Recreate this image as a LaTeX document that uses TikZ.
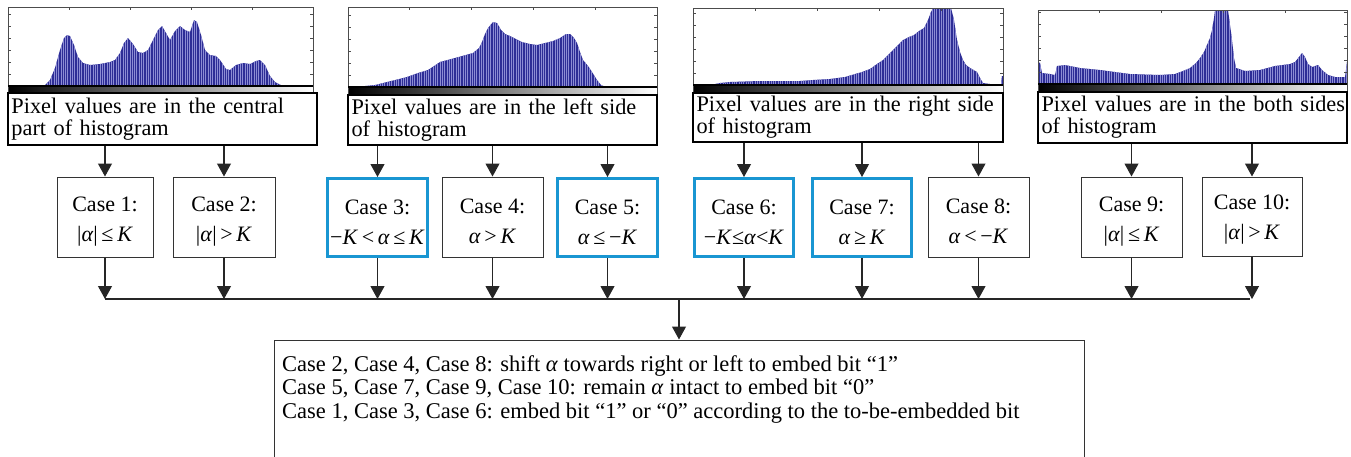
\documentclass[tikz,border=0pt]{standalone}
\usepackage{fontspec}
\setmainfont{Liberation Serif}
\usetikzlibrary{arrows.meta,calc}
\definecolor{hdark}{RGB}{45,45,150}
\definecolor{hlight}{RGB}{140,140,212}
\definecolor{caseblue}{RGB}{25,150,210}
\newcommand{\al}{\textit{α}}
\newcommand{\KK}{\textit{K}}
\newcommand{\mybar}{\textup{|}}
\newcommand{\topstrut}{\rule{0pt}{24pt}}
\tikzset{
  panelbox/.style={draw=black, line width=1.1pt, align=left, inner xsep=3.5pt, inner ysep=0pt,
     font=\fontsize{22.3}{22}\selectfont},
  casebox/.style={draw=black!80, line width=1pt, align=center, minimum height=80pt, inner sep=0pt,
     font=\fontsize{22}{30}\selectfont},
  bluebox/.style={casebox, draw=caseblue, line width=3pt},
  arr/.style={draw=black!85, line width=1.1pt, -{Triangle[width=14pt,length=13pt]}},
  conn/.style={draw=black!85, line width=1.1pt},
  framel/.style={draw=black!70, line width=0.8pt},
}
\newcommand{\histpanel}[6]{% left, right, top, base, cbarbottom, coords
  \pgfmathsetmacro\hpxs{#1+2.3}
  \begin{scope}
    \clip (#1,#3) rectangle (#2,#4);
    \clip plot coordinates {#6} -- cycle;
    \fill[hdark] (#1,#3) rectangle (#2,#4);
    \foreach \xx in {#1,\hpxs,...,#2} \draw[hlight, line width=0.75pt] (\xx,#3) -- (\xx,#4);
  \end{scope}
  \shade[left color=black, right color=white] (#1,#4) rectangle (#2,#5);
  \draw[framel] (#1,#5) -- (#1,#3) -- (#2,#3) -- (#2,#5);
  \draw[black, line width=1.1pt] (#1,#4) -- (#2,#4);
  \foreach \k in {1,...,6} {
    \draw[framel] (#1,#4-12*\k) -- ++(3,0);
    \draw[framel] (#2,#4-12*\k) -- ++(-3,0);
  }
  \foreach \k in {1,...,4} {
    \draw[framel] ({#1+(#2-#1)*\k/5},#3) -- ++(0,3);
  }
}
\begin{document}
\begin{tikzpicture}[x=1pt,y=-1pt]
\useasboundingbox (0,0) rectangle (1351,456);

% histograms
\histpanel{8}{313}{7}{86}{93}{(40,86)(45,85)(50,80)(55,68)(60,50)(64,38)(67,35)(70,36)(74,45)(78,57)(83,63)(90,65)(100,64)(110,62)(115,60)(120,53)(124,43)(128,38)(133,44)(138,52)(143,53)(148,50)(153,40)(158,30)(162,26)(166,33)(170,40)(175,31)(180,26)(185,30)(190,32)(194,20)(197,22)(201,35)(205,50)(210,55)(216,56)(220,60)(226,69)(230,70)(236,65)(243,63)(250,64)(256,61)(260,60)(265,65)(270,76)(275,82)(283,86)}
\histpanel{348}{657}{7}{87}{95}{(355,87)(365,86)(375,85)(383,83)(395,80)(407,77)(418,73)(428,70)(440,62)(455,58)(473,53)(479,48)(482,42)(485,34)(488,28)(493,22)(497,23)(501,30)(505,34)(510,36)(516,39)(522,42)(530,44)(537,45)(545,43)(553,41)(560,38)(566,34)(570,34)(574,38)(577,43)(580,52)(583,60)(588,66)(592,72)(597,80)(601,85)(606,87)}
\histpanel{693}{1003}{8}{85}{93}{(710,85)(720,83)(730,82)(760,81)(800,81)(813,80)(830,79)(845,77)(855,74)(862,72)(870,69)(877,64)(883,60)(888,55)(893,50)(898,45)(903,40)(909,37)(914,35)(919,31)(924,28)(928,20)(931,12)(933,8)(951,8)(954,20)(957,40)(960,52)(963,60)(966,65)(970,68)(977,72)(980,78)(983,83)(990,84)(1001,84)(1002,76)(1003,76)(1003,85)}
\histpanel{1038}{1347}{10}{84}{91}{(1038,84)(1038,62)(1040,63)(1042,73)(1050,74)(1055,75)(1057,66)(1065,65)(1080,68)(1100,70)(1130,74)(1160,75)(1175,74)(1183,71)(1190,68)(1196,63)(1200,58)(1204,52)(1207,45)(1210,38)(1212,30)(1214,18)(1215,10)(1228,10)(1230,25)(1232,40)(1234,58)(1236,68)(1245,71)(1260,70)(1275,66)(1290,64)(1295,62)(1299,57)(1302,53)(1305,57)(1308,64)(1312,67)(1318,65)(1322,70)(1328,75)(1335,77)(1345,77)(1347,62)(1347,84)}

% panel text boxes
\node[panelbox, minimum width=309pt, minimum height=52pt, text width=302pt] (p1) at (162.5,119)
  {\mbox{Pixel values are in the central}\\part of histogram};
\node[panelbox, minimum width=309pt, minimum height=50pt, text width=302pt] (p2) at (502.5,120)
  {\mbox{Pixel values are in the left side}\\of histogram};
\node[panelbox, minimum width=310pt, minimum height=49pt, text width=303pt] (p3) at (848,117.5)
  {\mbox{Pixel values are in the right side}\\of histogram};
\node[panelbox, minimum width=309pt, minimum height=51pt, text width=302pt] (p4) at (1192.5,117.5)
  {\mbox{Pixel values are in the both sides}\\of histogram};

% case boxes
\node[casebox, minimum width=96pt] (c1) at (105,217) {\topstrut Case 1:\\\mybar\al\mybar\,≤\,\KK};
\node[casebox, minimum width=102pt] (c2) at (224,217) {\topstrut Case 2:\\\mybar\al\mybar\,>\,\KK};
\node[bluebox, minimum width=100pt, minimum height=78pt] (c3) at (377.5,217.5) {\topstrut Case 3:\\−\KK\,<\,\al\,≤\,\KK};
\node[casebox, minimum width=101pt] (c4) at (492.5,217) {\topstrut Case 4:\\\al\,>\,\KK};
\node[bluebox, minimum width=100pt, minimum height=78pt] (c5) at (607.5,217.5) {\topstrut Case 5:\\\al\,≤\,−\KK};
\node[bluebox, minimum width=99pt, minimum height=78pt] (c6) at (744,217.5) {\topstrut Case 6:\\−\KK≤\al<\KK};
\node[bluebox, minimum width=99pt, minimum height=78pt] (c7) at (862,217.5) {\topstrut Case 7:\\\al\,≥\,\KK};
\node[casebox, minimum width=101pt] (c8) at (978.5,217) {\topstrut Case 8:\\\al\,<\,−\KK};
\node[casebox, minimum width=101pt] (c9) at (1131.5,217) {\topstrut Case 9:\\\mybar\al\mybar\,≤\,\KK};
\node[casebox, minimum width=100pt, minimum height=79pt] (c10) at (1252,216.5) {\rule{0pt}{21pt}Case 10:\\\mybar\al\mybar\,>\,\KK};

% arrows from panels to cases
\draw[arr] (p1.south -| c1.north) -- (c1.north);
\draw[arr] (p1.south -| c2.north) -- (c2.north);
\draw[arr] (p2.south -| c3.north) -- (c3.north);
\draw[arr] (p2.south -| c4.north) -- (c4.north);
\draw[arr] (p2.south -| c5.north) -- (c5.north);
\draw[arr] (p3.south -| c6.north) -- (c6.north);
\draw[arr] (p3.south -| c7.north) -- (c7.north);
\draw[arr] (p3.south -| c8.north) -- (c8.north);
\draw[arr] (p4.south -| c9.north) -- (c9.north);
\draw[arr] (p4.south -| c10.north) -- (c10.north);

% collecting line
\coordinate (hl) at (105,299);
\coordinate (hr) at (1250,299);
\draw[conn] (hl) -- (hr);
\foreach \c in {c1,c2,c3,c4,c5,c6,c7,c8,c9,c10}
  \draw[arr] (\c.south) -- (\c.south |- hl);

% result box
\node[draw=black!80, line width=1pt, minimum width=810pt, minimum height=130pt, inner sep=0pt] (res) at (679,405) {};
\node[anchor=north west, align=left, inner sep=0pt, font=\fontsize{22.5}{23.5}\selectfont] (restext) at (282,355)
  {Case 2, Case 4, Case 8: shift \al\ towards right or left to embed bit “1”\\
   Case 5, Case 7, Case 9, Case 10: remain \al\ intact to embed bit “0”\\
   Case 1, Case 3, Case 6: embed bit “1” or “0” according to the to-be-embedded bit};
\draw[arr] (res.north |- hl) -- (res.north);
\end{tikzpicture}
\end{document}
